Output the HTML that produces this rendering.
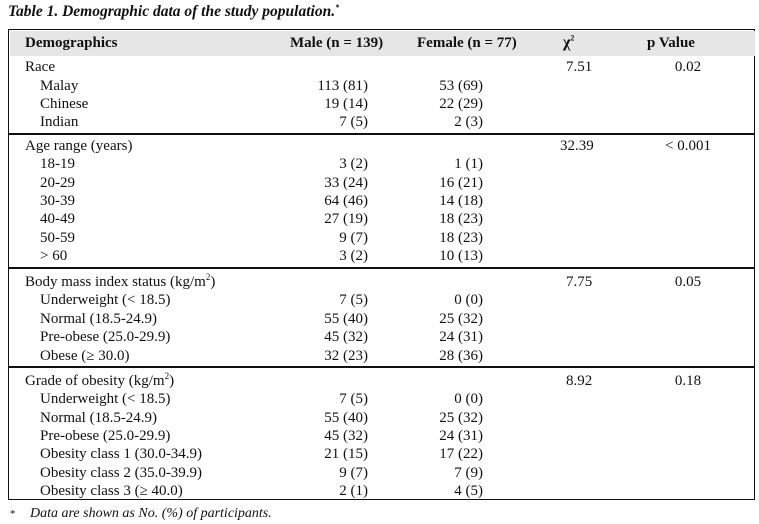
<!DOCTYPE html>
<html><head><meta charset="utf-8"><style>
body{margin:0;background:#fff;width:759px;height:524px;position:relative;overflow:hidden;font-family:"Liberation Serif",serif;font-size:15px;color:#111}
.t{position:absolute;height:18px;line-height:18px;white-space:nowrap}
.r{text-align:right}.c{text-align:center}
.b{font-weight:bold}
sup{line-height:0;vertical-align:super;font-size:9px}
.line{position:absolute;left:8px;width:747px;height:1.5px;background:#111}
</style></head><body>
<div class="t b" style="left:8px;top:3px;font-style:italic;font-size:15.5px">Table 1. Demographic data of the study population.<sup style="font-size:8px">*</sup></div>
<div style="position:absolute;left:8px;top:29px;width:745px;height:469px;border:1.5px solid #111"></div>
<div style="position:absolute;left:9.5px;top:30.5px;width:745px;height:25px;background:#e6e6e6"></div>
<div class="t b" style="left:25px;top:34px">Demographics</div>
<div class="t b" style="left:290px;top:34px">Male (n = 139)</div>
<div class="t b" style="left:417px;top:34px">Female (n = 77)</div>
<div class="t b" style="left:563px;top:34px;font-size:16px">χ<sup style="font-size:8px">2</sup></div>
<div class="t b" style="left:647px;top:34px">p Value</div>
<div class="line" style="top:133px"></div>
<div class="line" style="top:267px"></div>
<div class="line" style="top:366px"></div>
<div class="t" style="left:10px;top:505px;font-size:11px">*</div>
<div class="t" style="left:30px;top:505px;font-style:italic;font-size:14px">Data are shown as No. (%) of participants.</div>
<script>
const rows=[
[67,0,"Race","","","7.51","0.02"],
[85.5,1,"Malay","113 (81)","53 (69)","",""],
[104,1,"Chinese","19 (14)","22 (29)","",""],
[122,1,"Indian","7 (5)","2 (3)","",""],
[146,0,"Age range (years)","","","32.39","< 0.001"],
[164,1,"18-19","3 (2)","1 (1)","",""],
[183,1,"20-29","33 (24)","16 (21)","",""],
[201,1,"30-39","64 (46)","14 (18)","",""],
[219,1,"40-49","27 (19)","18 (23)","",""],
[238,1,"50-59","9 (7)","18 (23)","",""],
[256,1,"> 60","3 (2)","10 (13)","",""],
[282,0,"Body mass index status (kg/m<sup>2</sup>)","","","7.75","0.05"],
[300,1,"Underweight (< 18.5)","7 (5)","0 (0)","",""],
[319,1,"Normal (18.5-24.9)","55 (40)","25 (32)","",""],
[337,1,"Pre-obese (25.0-29.9)","45 (32)","24 (31)","",""],
[356,1,"Obese (≥ 30.0)","32 (23)","28 (36)","",""],
[381,0,"Grade of obesity (kg/m<sup>2</sup>)","","","8.92","0.18"],
[399,1,"Underweight (< 18.5)","7 (5)","0 (0)","",""],
[418,1,"Normal (18.5-24.9)","55 (40)","25 (32)","",""],
[436,1,"Pre-obese (25.0-29.9)","45 (32)","24 (31)","",""],
[454,1,"Obesity class 1 (30.0-34.9)","21 (15)","17 (22)","",""],
[473,1,"Obesity class 2 (35.0-39.9)","9 (7)","7 (9)","",""],
[491,1,"Obesity class 3 (≥ 40.0)","2 (1)","4 (5)","",""]
];
const host=document.body;
rows.forEach(r=>{
 const top=(r[0]-9)+'px';
 const a=document.createElement('div');a.className='t';a.style.left=(r[1]?40:25)+'px';a.style.top=top;a.innerHTML=r[2];
 
 
 host.appendChild(a);
 if(r[3]){const m=document.createElement('div');m.className='t r';m.style.left='268px';m.style.width='100px';m.style.top=top;m.textContent=r[3];
 
 
 host.appendChild(m);}
 if(r[4]){const f=document.createElement('div');f.className='t r';f.style.left='383px';f.style.width='100px';f.style.top=top;f.textContent=r[4];
 
 
 host.appendChild(f);}
 if(r[5]){const c=document.createElement('div');c.className='t';c.style.left=(r[5].length>4?560:566)+'px';c.style.top=top;c.textContent=r[5];
 
 
 host.appendChild(c);}
 if(r[6]){const p=document.createElement('div');p.className='t c';p.style.left='638px';p.style.width='100px';p.style.top=top;p.textContent=r[6];
 
 
 host.appendChild(p);}
});
</script>
</body></html>
